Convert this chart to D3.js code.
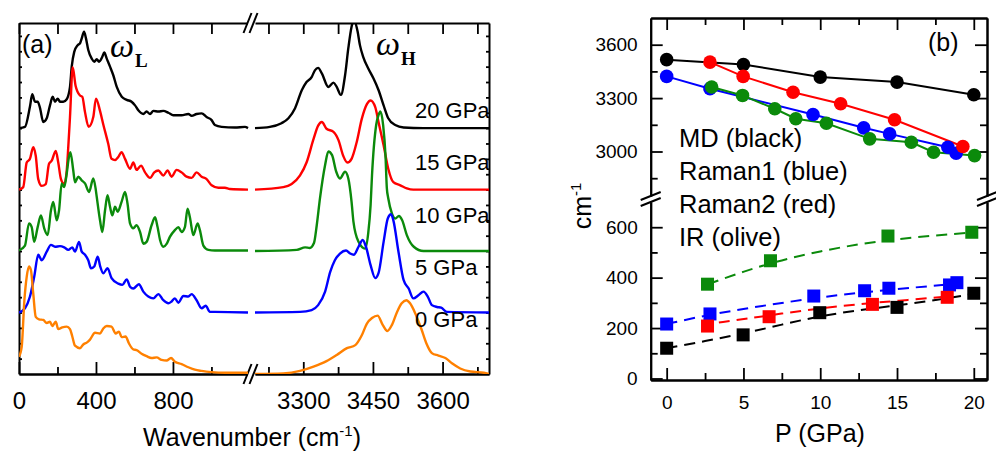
<!DOCTYPE html>
<html>
<head>
<meta charset="utf-8">
<script src="https://cdn.jsdelivr.net/npm/d3@7"></script>
<style>
body { margin: 0; background: #fff; }
svg text { font-family: "Liberation Sans", Arial, Helvetica, sans-serif; fill: #000; }
.ax path, .ax line { stroke: #000; }
.ax path { stroke-width: 2; }
.ax line { stroke-width: 1.8; }
</style>
</head>
<body>
<div id="chart"></div>
<script>
// ---------- panel (a): spectra, [wavenumber, intensity] pairs
var pressures = ['20 GPa', '15 GPa', '10 GPa', '5 GPa', '0 GPa'];
var offsets = [400, 300, 200, 100, 0];
var specColors = ['#000000', '#ff0000', '#0b8a0b', '#0000ff', '#ff8000'];

var low20 = [[0,0],[31,2],[57,35],[69,55],[83,43],[97,43],[109,33],[126,10],[144,16],[161,37],[175,51],[187,43],[201,48],[213,43],[230,43],[248,47],[265,67],[274,100],[287,124],[305,135],[317,138],[326,146],[338,157],[348,146],[360,127],[378,113],[391,108],[404,112],[416,108],[433,116],[443,123],[456,113],[473,100],[490,86],[508,67],[534,51],[560,46],[585,43],[603,37],[620,29],[646,23],[663,27],[681,23],[698,28],[724,27],[750,28],[776,25],[802,21],[845,21],[880,23],[897,20],[923,23],[949,24],[975,18],[1001,13],[1018,5],[1053,2],[1122,1],[1174,2],[1190,0]];
var high20 = [[3196,0],[3228,2],[3253,8],[3268,16],[3282,32],[3297,62],[3307,75],[3318,83],[3325,94],[3332,98],[3340,89],[3354,67],[3365,74],[3372,67],[3381,54],[3390,86],[3397,130],[3404,165],[3409,176],[3417,157],[3422,135],[3429,116],[3440,97],[3451,81],[3462,62],[3473,37],[3483,16],[3498,5],[3516,1],[3559,0],[3700,0]];

var low15 = [[0,0],[22,4],[40,44],[57,50],[74,69],[87,55],[100,17],[118,6],[139,9],[156,42],[170,47],[191,63],[204,44],[218,17],[235,9],[248,31],[256,69],[265,118],[279,199],[294,169],[317,153],[329,151],[343,126],[362,102],[386,118],[400,148],[421,128],[438,106],[464,74],[481,50],[499,48],[516,53],[533,61],[551,50],[577,34],[594,44],[611,32],[634,39],[655,28],[681,19],[703,28],[724,31],[750,23],[772,31],[793,21],[819,32],[845,28],[871,21],[897,19],[923,28],[949,21],[975,17],[1001,7],[1036,3],[1070,3],[1096,1],[1190,0]];
var high15 = [[3196,0],[3257,4],[3275,9],[3293,23],[3307,44],[3322,82],[3332,104],[3340,110],[3350,99],[3365,94],[3376,80],[3386,55],[3395,44],[3404,50],[3415,77],[3426,115],[3437,139],[3445,145],[3455,134],[3462,110],[3473,72],[3483,34],[3494,12],[3509,7],[3523,2],[3537,0],[3700,0]];

var low10 = [[0,1],[31,9],[52,45],[66,39],[79,15],[97,39],[114,58],[131,37],[149,26],[166,66],[178,80],[196,50],[208,66],[222,110],[235,104],[248,126],[258,150],[267,161],[282,131],[291,112],[308,121],[326,115],[343,110],[364,96],[386,118],[398,102],[404,88],[421,50],[433,31],[447,66],[460,91],[473,72],[485,58],[499,72],[513,64],[533,80],[551,96],[564,77],[577,45],[594,37],[611,42],[629,31],[646,12],[663,15],[689,42],[707,55],[720,39],[733,18],[750,7],[768,12],[784,23],[810,34],[828,39],[845,31],[862,39],[876,69],[888,55],[906,26],[928,45],[940,34],[958,9],[984,2],[1018,1],[1190,1]];
var high10 = [[3196,0],[3286,2],[3304,6],[3314,5],[3323,13],[3329,42],[3336,86],[3347,140],[3354,162],[3362,156],[3371,129],[3379,118],[3390,129],[3397,118],[3404,80],[3408,48],[3419,15],[3433,4],[3440,30],[3445,75],[3448,123],[3457,205],[3462,221],[3466,227],[3472,205],[3477,156],[3480,102],[3483,86],[3491,61],[3498,53],[3506,57],[3513,50],[3523,26],[3538,7],[3559,0],[3700,0]];

var low5 = [[0,0],[31,7],[57,26],[79,58],[100,94],[118,85],[144,99],[166,110],[187,107],[213,108],[235,106],[256,102],[277,106],[291,99],[312,115],[326,99],[343,94],[360,85],[374,72],[391,75],[409,91],[422,75],[438,64],[460,72],[481,56],[516,47],[537,45],[560,54],[577,42],[594,39],[623,46],[646,34],[672,26],[698,23],[724,30],[750,20],[776,15],[793,18],[810,23],[828,16],[854,27],[880,26],[897,30],[923,20],[949,7],[970,11],[992,1],[1018,1],[1190,0]];
var high5 = [[3196,0],[3293,1],[3318,4],[3332,12],[3347,34],[3358,66],[3368,85],[3379,96],[3392,101],[3401,96],[3409,94],[3419,107],[3428,118],[3435,107],[3445,77],[3455,56],[3462,64],[3473,115],[3482,153],[3489,160],[3494,150],[3505,99],[3516,53],[3527,39],[3537,23],[3548,28],[3559,34],[3568,26],[3577,12],[3588,9],[3597,8],[3609,1],[3700,0]];

var low0 = [[0,28],[14,44],[28,120],[40,158],[52,175],[62,169],[74,131],[87,93],[104,89],[126,88],[144,83],[161,85],[173,78],[191,85],[204,73],[225,76],[248,77],[265,73],[277,61],[291,46],[317,42],[334,48],[352,51],[369,56],[395,67],[421,66],[438,74],[456,78],[481,77],[502,66],[520,69],[533,60],[554,61],[571,50],[594,40],[611,39],[637,33],[663,29],[689,26],[715,27],[741,23],[767,22],[790,26],[810,20],[845,16],[880,11],[914,7],[949,5],[1001,3],[1070,2],[1190,2]];
var high0 = [[3196,0],[3257,1],[3293,5],[3322,12],[3350,21],[3372,31],[3394,42],[3412,47],[3426,63],[3437,82],[3448,91],[3460,95],[3471,80],[3481,70],[3491,80],[3502,101],[3512,115],[3522,120],[3530,115],[3541,99],[3554,74],[3565,50],[3577,34],[3591,30],[3606,26],[3621,17],[3638,9],[3660,4],[3689,2],[3700,0]];

var lowSeries = [low20, low15, low10, low5, low0];
var highSeries = [high20, high15, high10, high5, high0];

var lowTicks = [0, 200, 400, 600, 800, 1000];
var lowLabels = [0, 400, 800];
var highTicks = [3225, 3300, 3375, 3450, 3525, 3600, 3675];
var highLabels = [3300, 3450, 3600];

// ---------- panel (b): frequencies vs pressure
var pMD = [0, 5, 10, 15, 20];
var wMD = [3516, 3489, 3418, 3390, 3319];
var pRaman1 = [0, 2.82, 9.53, 12.83, 14.52, 18.31, 18.85];
var wRaman1 = [3422, 3353, 3208, 3133, 3099, 3024, 2990];
var pRaman2 = [2.82, 4.98, 8.23, 11.33, 14.84, 19.29];
var wRaman2 = [3502, 3422, 3333, 3268, 3178, 3028];
var pIR = [2.93, 4.94, 7.04, 8.41, 10.4, 13.22, 15.93, 17.38, 20.05];
var wIR = [3362, 3315, 3240, 3184, 3159, 3071, 3052, 2996, 2977];

var pMDlow = [0, 4.98, 9.97, 15, 20];
var vMDlow = [120, 173, 261, 282, 338];
var pRaman1low = [0, 2.82, 9.58, 12.89, 14.47, 18.42, 18.9];
var vRaman1low = [216, 256, 327, 348, 358, 371, 380];
var pRaman2low = [2.66, 6.67, 13.4, 18.27];
var vRaman2low = [208, 245, 294, 322];
var pIRlow = [2.66, 6.76, 14.41, 19.87];
var vIRlow = [374, 467, 565, 580];

// dashed guide curves
var fitMD = [[0,120],[2.5,148],[5,178],[7.5,214],[10,248],[12.5,271],[15,290],[17.5,310],[20,336]];
var fitRaman1 = [[0,216],[2.5,250],[5,276],[7.5,300],[10,322],[12.5,340],[15,355],[17.5,368],[19,378]];
var fitRaman2 = [[3.4,222],[5,235],[7.5,258],[10,278],[12.5,295],[15,308],[18.3,325]];
var fitIR = [[2.7,374],[5,425],[7.5,470],[10,505],[12.5,533],[15,553],[17.5,568],[20,579]];

var legendLines = ['MD (black)', 'Raman1 (blue)', 'Raman2 (red)', 'IR (olive)'];
var pTicks = [0, 5, 10, 15, 20];
var pMinor = [2.5, 7.5, 12.5, 17.5];
var upTicks = [3000, 3300, 3600];
var upMinor = [2850, 3150, 3450];
var loTicks = [0, 200, 400, 600];
var loMinor = [100, 300, 500];

var cBlack = '#000000', cRed = '#ff0000', cBlue = '#0000ff', cGreen = '#0b8a0b';
var fmt = d3.format('d');

var svg = d3.select('#chart').append('svg')
    .attr('width', 996)
    .attr('height', 451);

// ================= panel (a)
var xLow = d3.scaleLinear().domain([0, 1190]).range([19, 248]);
var xHigh = d3.scaleLinear().domain([3196, 3700]).range([255, 489]);
var yA = d3.scaleLinear().domain([0, 571]).range([374, 23]);

svg.append('clipPath').attr('id', 'clipA')
    .append('rect').attr('x', 19).attr('y', 23).attr('width', 470).attr('height', 351);

var gA = svg.append('g');

function addAxis(gen, transform, labels) {
    var g = gA.append('g').attr('class', 'ax').attr('transform', transform).call(gen.tickFormat(fmt));
    if (!labels) g.selectAll('text').remove();
    g.selectAll('text').style('font-size', '24px');
    return g;
}

// bottom axes, major with labels and minor
addAxis(d3.axisBottom(xLow).tickValues(lowLabels).tickSizeInner(-12).tickSizeOuter(0).tickPadding(18), 'translate(0,374)', true);
addAxis(d3.axisBottom(xLow).tickValues([200, 600, 1000]).tickSizeInner(-7).tickSizeOuter(0), 'translate(0,374)', false);
addAxis(d3.axisBottom(xHigh).tickValues(highLabels).tickSizeInner(-12).tickSizeOuter(0).tickPadding(18), 'translate(0,374)', true);
addAxis(d3.axisBottom(xHigh).tickValues([3225, 3375, 3525, 3675]).tickSizeInner(-7).tickSizeOuter(0), 'translate(0,374)', false);
// top axes
addAxis(d3.axisTop(xLow).tickValues(lowTicks).tickSizeInner(-11).tickSizeOuter(0), 'translate(0,23)', false);
addAxis(d3.axisTop(xHigh).tickValues(highTicks).tickSizeInner(-11).tickSizeOuter(0), 'translate(0,23)', false);
// left and right, small ticks only
addAxis(d3.axisLeft(yA).tickValues(d3.range(25, 551, 25)).tickSizeInner(-3).tickSizeOuter(0), 'translate(19,0)', false);
addAxis(d3.axisRight(yA).tickValues(d3.range(25, 551, 25)).tickSizeInner(-3).tickSizeOuter(0), 'translate(489,0)', false);

// break marks on x axis
[23, 374].forEach(function(yy) {
    gA.append('rect').attr('x', 248).attr('y', yy - 3).attr('width', 7).attr('height', 6).attr('fill', '#fff');
    [247.5, 253.5].forEach(function(xx) {
        gA.append('line')
            .attr('x1', xx - 4).attr('y1', yy + 10)
            .attr('x2', xx + 4).attr('y2', yy - 10)
            .attr('stroke', '#000').attr('stroke-width', 2);
    });
});

// spectra
var curves = gA.append('g').attr('clip-path', 'url(#clipA)');
pressures.forEach(function(p, i) {
    var lineLow = d3.line()
        .x(d => xLow(d[0]))
        .y(d => yA(d[1] + offsets[i]))
        .curve(d3.curveMonotoneX);
    var lineHigh = d3.line()
        .x(d => xHigh(d[0]))
        .y(d => yA(d[1] + offsets[i]))
        .curve(d3.curveMonotoneX);
    [[lowSeries[i], lineLow], [highSeries[i], lineHigh]].forEach(function(s) {
        curves.append('path')
            .attr('d', s[1](s[0]))
            .attr('fill', 'none')
            .attr('stroke', specColors[i])
            .attr('stroke-width', 2.4)
            .attr('stroke-linejoin', 'round');
    });
});

// pressure labels
var labelY = [118, 170, 223, 275, 327];
pressures.forEach(function(p, i) {
    gA.append('text')
        .attr('x', 415).attr('y', labelY[i])
        .style('font-size', '22px')
        .text(p);
});

gA.append('text').attr('x', 22).attr('y', 53).style('font-size', '25px').text('(a)');

function omega(x, y, sub) {
    var t = gA.append('text').attr('x', x).attr('y', y)
        .style('font-family', '"Liberation Serif", "Times New Roman", serif');
    t.append('tspan').style('font-style', 'italic').style('font-size', '34px').text('\u03c9');
    t.append('tspan').attr('dx', 1).attr('dy', 10).style('font-weight', 'bold').style('font-size', '19px').text(sub);
}
omega(110, 57, 'L');
omega(376, 55, 'H');

var xlab = gA.append('text').attr('x', 252).attr('y', 446)
    .attr('text-anchor', 'middle').style('font-size', '25px');
xlab.append('tspan').text('Wavenumber (cm');
xlab.append('tspan').attr('dy', -10).style('font-size', '15px').text('-1');
xlab.append('tspan').attr('dy', 10).text(')');

// ================= panel (b)
var xB = d3.scaleLinear().domain([-1.04, 20.86]).range([650.7, 987]);
var yUp = d3.scaleLinear().domain([2750, 3750]).range([196, 18]);
var yLo = d3.scaleLinear().domain([-6, 700]).range([380, 202]);

var gB = svg.append('g');

function addAxisB(gen, transform, labels) {
    var g = gB.append('g').attr('class', 'ax').attr('transform', transform).call(gen.tickFormat(fmt));
    if (!labels) g.selectAll('text').remove();
    g.selectAll('text').style('font-size', '19px');
    return g;
}

addAxisB(d3.axisBottom(xB).tickValues(pTicks).tickSizeInner(-12).tickSizeOuter(0).tickPadding(16), 'translate(0,380)', true);
addAxisB(d3.axisBottom(xB).tickValues(pMinor).tickSizeInner(-7).tickSizeOuter(0), 'translate(0,380)', false);
addAxisB(d3.axisTop(xB).tickValues(pTicks).tickSizeInner(-12).tickSizeOuter(0), 'translate(0,18)', false);
addAxisB(d3.axisTop(xB).tickValues(pMinor).tickSizeInner(-7).tickSizeOuter(0), 'translate(0,18)', false);

addAxisB(d3.axisLeft(yUp).tickValues(upTicks).tickSizeInner(-12).tickSizeOuter(0).tickPadding(13), 'translate(650.7,0)', true);
addAxisB(d3.axisLeft(yUp).tickValues(upMinor).tickSizeInner(-7).tickSizeOuter(0), 'translate(650.7,0)', false);
addAxisB(d3.axisRight(yUp).tickValues(upTicks).tickSizeInner(-12).tickSizeOuter(0), 'translate(987,0)', false);
addAxisB(d3.axisRight(yUp).tickValues(upMinor).tickSizeInner(-7).tickSizeOuter(0), 'translate(987,0)', false);

addAxisB(d3.axisLeft(yLo).tickValues(loTicks).tickSizeInner(-12).tickSizeOuter(0).tickPadding(13), 'translate(650.7,0)', true);
addAxisB(d3.axisLeft(yLo).tickValues(loMinor).tickSizeInner(-7).tickSizeOuter(0), 'translate(650.7,0)', false);
addAxisB(d3.axisRight(yLo).tickValues(loTicks).tickSizeInner(-12).tickSizeOuter(0), 'translate(987,0)', false);
addAxisB(d3.axisRight(yLo).tickValues(loMinor).tickSizeInner(-7).tickSizeOuter(0), 'translate(987,0)', false);

// break marks on y axes
[650.7, 987].forEach(function(xx) {
    [196, 202].forEach(function(yy) {
        gB.append('line')
            .attr('x1', xx - 10).attr('y1', yy + 4)
            .attr('x2', xx + 10).attr('y2', yy - 4)
            .attr('stroke', '#000').attr('stroke-width', 2);
    });
});

// upper: solid lines with circles
var upper = [
    [pRaman1, wRaman1, cBlue],
    [pMD, wMD, cBlack],
    [pRaman2, wRaman2, cRed],
    [pIR, wIR, cGreen]
];
upper.forEach(function(s) {
    var pts = s[0].map((p, j) => [p, s[1][j]]);
    gB.append('path')
        .attr('d', d3.line().x(d => xB(d[0])).y(d => yUp(d[1]))(pts))
        .attr('fill', 'none').attr('stroke', s[2]).attr('stroke-width', 2);
});
upper.forEach(function(s) {
    var pts = s[0].map((p, j) => [p, s[1][j]]);
    gB.selectAll(null).data(pts).enter().append('circle')
        .attr('cx', d => xB(d[0]))
        .attr('cy', d => yUp(d[1]))
        .attr('r', 6.8)
        .style('fill', s[2]);
});

// lower: dashed guide curves with squares
var lower = [
    [pMDlow, vMDlow, fitMD, cBlack],
    [pRaman1low, vRaman1low, fitRaman1, cBlue],
    [pRaman2low, vRaman2low, fitRaman2, cRed],
    [pIRlow, vIRlow, fitIR, cGreen]
];
lower.forEach(function(s) {
    gB.append('path')
        .attr('d', d3.line().x(d => xB(d[0])).y(d => yLo(d[1])).curve(d3.curveBasis)(s[2]))
        .attr('fill', 'none').attr('stroke', s[3]).attr('stroke-width', 2)
        .attr('stroke-dasharray', '11,7');
});
lower.forEach(function(s) {
    var pts = s[0].map((p, j) => [p, s[1][j]]);
    gB.selectAll(null).data(pts).enter().append('rect')
        .attr('x', d => xB(d[0]) - 6.5)
        .attr('y', d => yLo(d[1]) - 6.5)
        .attr('width', 13).attr('height', 13)
        .style('fill', s[3]);
});

// legend text
legendLines.forEach(function(t, i) {
    gB.append('text').attr('x', 679).attr('y', 147 + i * 33)
        .style('font-size', '25.5px').text(t);
});

gB.append('text').attr('x', 928).attr('y', 51).style('font-size', '25px').text('(b)');

gB.append('text').attr('x', 820).attr('y', 442)
    .attr('text-anchor', 'middle').style('font-size', '25px').text('P (GPa)');

var ylab = gB.append('text')
    .attr('transform', 'translate(591,206) rotate(-90)')
    .attr('text-anchor', 'middle').style('font-size', '25px');
ylab.append('tspan').text('cm');
ylab.append('tspan').attr('dy', -10).style('font-size', '15px').text('-1');
</script>
</body>
</html>
